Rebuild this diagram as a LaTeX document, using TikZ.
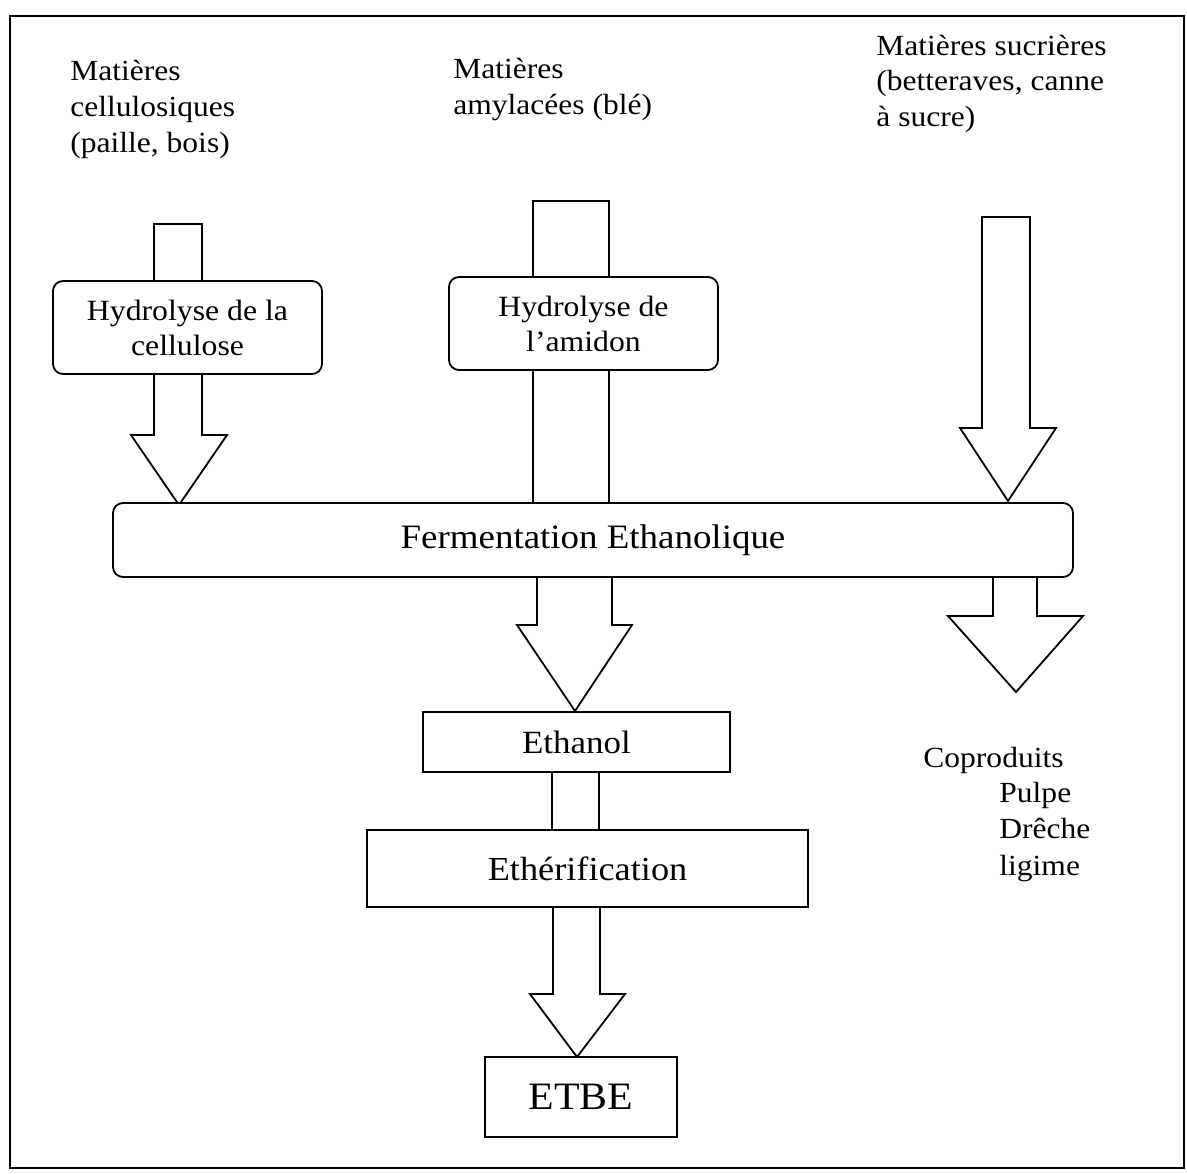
\documentclass[tikz,border=0pt]{standalone}
\usepackage{fontspec}
\setmainfont{Liberation Serif}[FakeStretch=1.08]
\begin{document}
\begin{tikzpicture}[x=0.5pt,y=-0.5pt,
  boxr/.style={draw, line width=0.9pt, fill=white, rounded corners=5pt, inner sep=0pt, align=center},
  boxs/.style={draw, line width=0.9pt, fill=white, inner sep=0pt, align=center},
  lab/.style={anchor=base west, inner sep=0pt, font=\fontsize{14.6}{17}\selectfont},
  barrow/.style={draw, line width=0.9pt, fill=white, line join=miter}]
\useasboundingbox (0,0) rectangle (1187,1173);
\draw[line width=1pt] (10,16) rectangle (1184,1168);

% block arrows (drawn first, boxes cover them)
\draw[barrow] (154,224) -- (202,224) -- (202,435) -- (227,435) -- (179,505) -- (131,435) -- (154,435) -- cycle;
\draw[barrow] (533,201) rectangle (609,503);
\draw[barrow] (982,217) -- (1030,217) -- (1030,428) -- (1056,428) -- (1008,501) -- (960,428) -- (982,428) -- cycle;
\draw[barrow] (537,577) -- (612,577) -- (612,625) -- (632,625) -- (575,711) -- (517,625) -- (537,625) -- cycle;
\draw[barrow] (993,577) -- (1037,577) -- (1037,616) -- (1083,616) -- (1016,692) -- (948,616) -- (993,616) -- cycle;
\draw[barrow] (552,772) rectangle (599,830);
\draw[barrow] (553,907) -- (600,907) -- (600,994) -- (625,994) -- (577,1057) -- (530,994) -- (553,994) -- cycle;

% boxes
\node[boxr, minimum width=134.5pt, minimum height=46.5pt, font=\fontsize{14.7}{17.5}\selectfont] (h1) at (187.5,327.5) {Hydrolyse de la\\cellulose};
\node[boxr, minimum width=134.5pt, minimum height=46.5pt, font=\fontsize{14.7}{17.5}\selectfont] (h2) at (583.5,323.5) {Hydrolyse de\\l’amidon};
\node[boxr, minimum width=480pt, minimum height=37pt, font=\fontsize{17.1}{20}\selectfont] (ferm) at (593,540) {Fermentation Ethanolique};
\node[boxs, minimum width=153.5pt, minimum height=30pt, font=\fontsize{16.2}{19}\selectfont] (eth) at (576.5,742) {Ethanol};
\node[boxs, minimum width=220.5pt, minimum height=38.5pt, font=\fontsize{16.8}{19}\selectfont] (ether) at (587.5,868.5) {Ethérification};
\node[boxs, minimum width=96pt, minimum height=40pt, font=\fontsize{19.4}{22}\selectfont] (etbe) at (581,1097) {ETBE};

% labels
\node[lab] (l1a) at (70,80) {Matières};
\node[lab] (l1b) at (70,116) {cellulosiques};
\node[lab] (l1c) at (70,152) {(paille, bois)};
\node[lab] (l2a) at (453,78) {Matières};
\node[lab] (l2b) at (453,114) {amylacées (blé)};
\node[lab] (l3a) at (876,55) {Matières sucrières};
\node[lab] (l3b) at (876,90) {(betteraves, canne};
\node[lab] (l3c) at (876,126) {à sucre)};
\node[lab] (c1) at (923,767) {Coproduits};
\node[lab] (c2) at (999,802) {Pulpe};
\node[lab] (c3) at (999,838) {Drêche};
\node[lab] (c4) at (999,875) {ligime};
\end{tikzpicture}
\end{document}
